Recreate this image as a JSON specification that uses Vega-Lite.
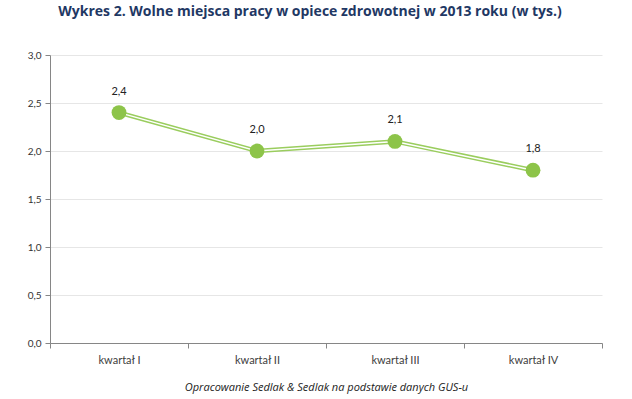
{
  "$schema": "https://vega.github.io/schema/vega-lite/v6.json",
  "width": 552,
  "height": 288,
  "autosize": "none",
  "padding": {"left": 50, "top": 55, "right": 30, "bottom": 56},
  "background": "white",
  "config": {
    "locale": {"number": {"decimal": ",", "thousands": " ", "grouping": [3], "currency": ["", " zł"]}},
    "view": {"stroke": null},
    "font": "Lato"
  },
  "title": {
    "text": "Wykres 2. Wolne miejsca pracy w opiece zdrowotnej w 2013 roku (w tys.)",
    "font": "Open Sans",
    "fontSize": 14,
    "fontWeight": "bold",
    "color": "#1F3864",
    "anchor": "middle",
    "dx": -16,
    "offset": 31
  },
  "data": {
    "values": [
      {"kwartal": "kwartał I", "wartosc": 2.4},
      {"kwartal": "kwartał II", "wartosc": 2.0},
      {"kwartal": "kwartał III", "wartosc": 2.1},
      {"kwartal": "kwartał IV", "wartosc": 1.8}
    ]
  },
  "encoding": {
    "x": {
      "field": "kwartal",
      "type": "nominal",
      "sort": null,
      "scale": {"paddingInner": 0, "paddingOuter": 0},
      "axis": {
        "title": "Opracowanie Sedlak & Sedlak na podstawie danych GUS-u",
        "titleFont": "Open Sans",
        "titleFontStyle": "italic",
        "titleFontWeight": "normal",
        "titleFontSize": 11,
        "titleColor": "#222222",
        "titlePadding": 16,
        "labelAngle": 0,
        "labelFontSize": 11,
        "labelColor": "#404040",
        "labelPadding": 6,
        "tickBand": "extent",
        "tickSize": 5,
        "tickColor": "#868686",
        "domainColor": "#868686"
      }
    },
    "y": {
      "field": "wartosc",
      "type": "quantitative",
      "scale": {"domain": [0, 3]},
      "axis": {
        "title": null,
        "values": [0, 0.5, 1, 1.5, 2, 2.5, 3],
        "format": ".1f",
        "labelFontSize": 10,
        "labelColor": "#333333",
        "labelPadding": 4,
        "tickSize": 5,
        "tickColor": "#868686",
        "domainColor": "#868686",
        "gridColor": "#E6E6E6"
      }
    }
  },
  "layer": [
    {"mark": {"type": "line", "color": "#9ACD5E", "strokeWidth": 4.5}},
    {"mark": {"type": "line", "color": "white", "strokeWidth": 1.5}},
    {"mark": {"type": "point", "filled": true, "color": "#8DC449", "opacity": 1, "size": 220}},
    {
      "mark": {"type": "text", "dy": -21, "fontSize": 11, "color": "#222222", "font": "Lato"},
      "encoding": {"text": {"field": "wartosc", "type": "quantitative", "format": ".1f"}}
    }
  ]
}
